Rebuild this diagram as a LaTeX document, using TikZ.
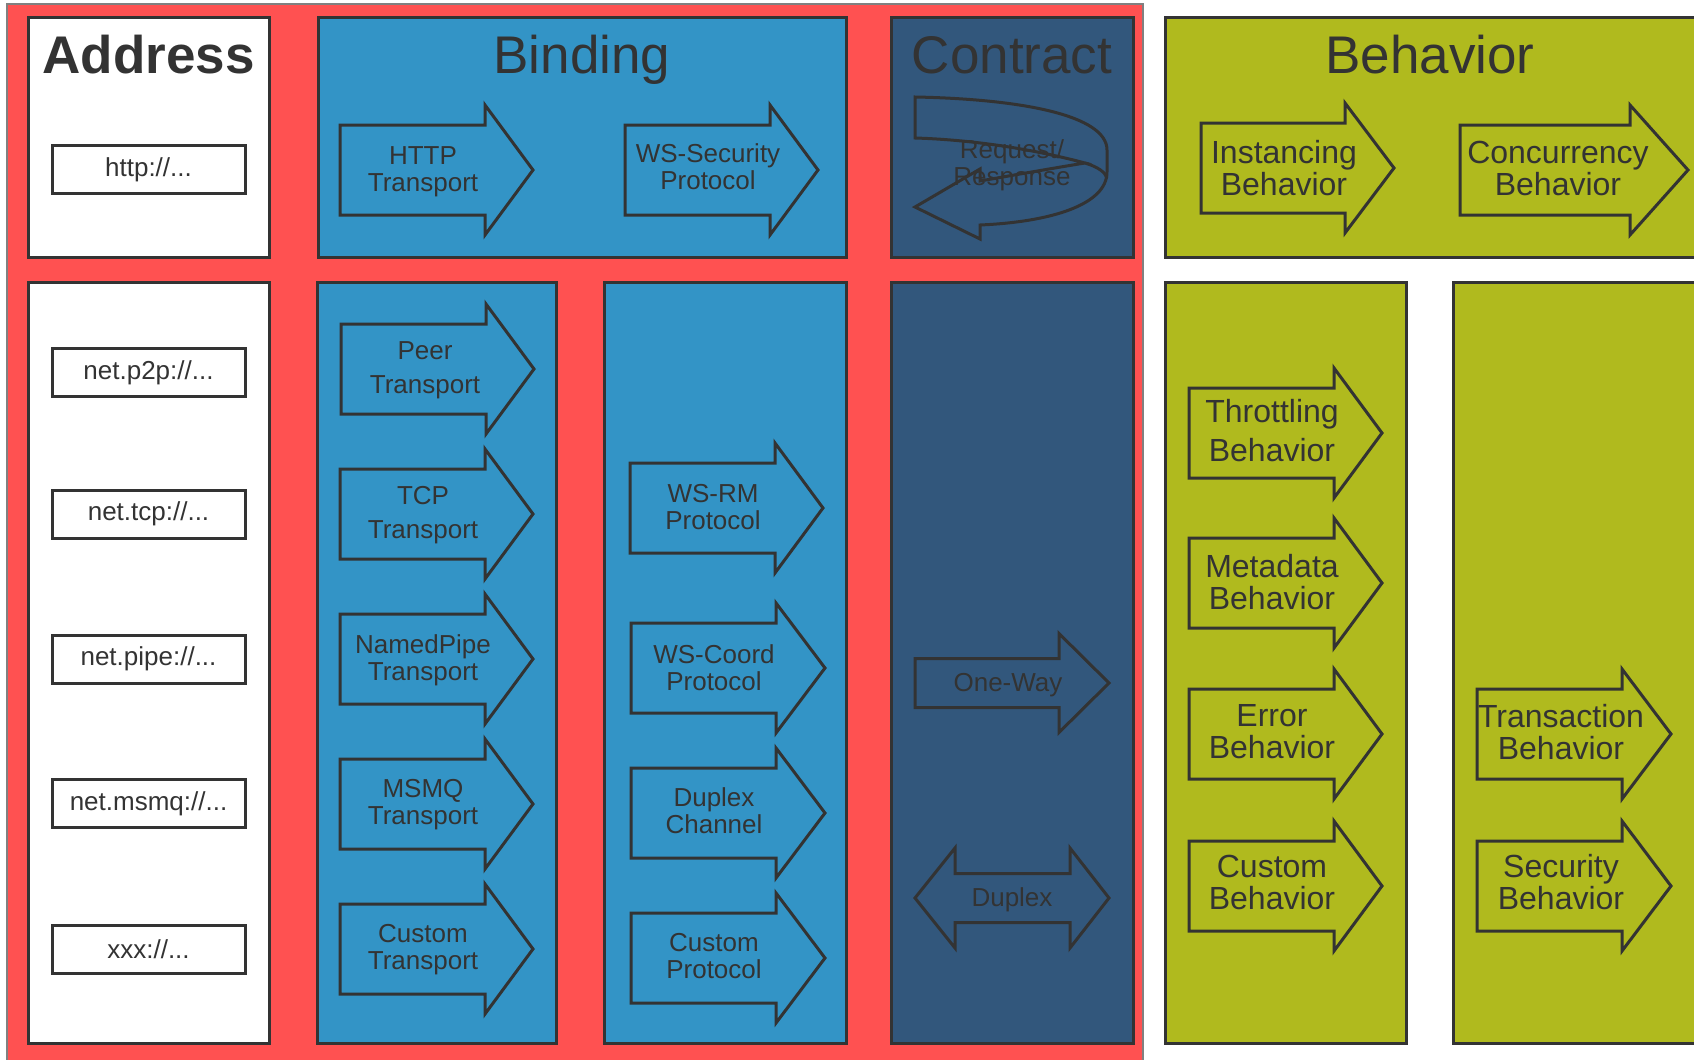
\documentclass[tikz,border=0pt]{standalone}
\usepackage{fontspec}
\setmainfont{Liberation Sans}
\newlength{\du}
\setlength{\du}{0.5pt}
\definecolor{wcfred}{rgb}{1.000000, 0.317647, 0.317647}
\definecolor{wcfblue}{rgb}{0.200000, 0.580392, 0.776471}
\definecolor{wcfnavy}{rgb}{0.196078, 0.341176, 0.486275}
\definecolor{wcfolive}{rgb}{0.690196, 0.729412, 0.117647}
\definecolor{wcfink}{rgb}{0.200000, 0.200000, 0.200000}
\tikzset{
  panel/.style={draw=wcfink, line width=3\du},
  fatarrow/.style={draw=wcfink, line width=3\du, line join=miter},
  addrbox/.style={draw=wcfink, fill=white, line width=3\du, minimum width=193\du, minimum height=48\du, inner sep=0pt, text=wcfink, font=\fontsize{13}{15}\selectfont},
  paneltitle/.style={anchor=base, text=wcfink, inner sep=0pt, font=\fontsize{26.5}{30}\selectfont},
  arrowtext/.style={align=center, text=wcfink, inner sep=0pt, font=\fontsize{13}{13.5}\selectfont},
  behavtext/.style={align=center, text=wcfink, inner sep=0pt, font=\fontsize{16}{16}\selectfont},
}

\begin{document}
\begin{tikzpicture}
\pgftransformxscale{1.000000}
\pgftransformyscale{-1.000000}
\useasboundingbox (0\du,0\du) rectangle (1694\du,1060\du);
% red frame round address, binding and contract
\fill[wcfred] (7\du,4\du) rectangle (1143\du,1060\du);
\draw[gray, line width=1.5\du] (7\du,1060\du) -- (7\du,4\du) -- (1143\du,4\du) -- (1143\du,1060\du);
% panels
\draw[panel, fill=white] (28\du,17\du) rectangle (269\du,257\du);
\draw[panel, fill=white] (28\du,282\du) rectangle (269\du,1043\du);
\draw[panel, fill=wcfblue] (318\du,17\du) rectangle (846\du,257\du);
\draw[panel, fill=wcfblue] (317\du,282\du) rectangle (556\du,1043\du);
\draw[panel, fill=wcfblue] (604\du,282\du) rectangle (846\du,1043\du);
\draw[panel, fill=wcfnavy] (891\du,17\du) rectangle (1133\du,257\du);
\draw[panel, fill=wcfnavy] (891\du,282\du) rectangle (1133\du,1043\du);
\draw[panel, fill=wcfolive] (1165\du,17\du) rectangle (1700\du,257\du);
\draw[panel, fill=wcfolive] (1165\du,282\du) rectangle (1406\du,1043\du);
\draw[panel, fill=wcfolive] (1453\du,282\du) rectangle (1700\du,1043\du);
% titles
\node[paneltitle, font=\bfseries\fontsize{26.5}{30}\selectfont] (taddress) at (148.5\du,73\du){Address};
\node[paneltitle] (tbinding) at (582\du,73\du){Binding};
\node[paneltitle] (tcontract) at (1012\du,73\du){Contract};
\node[paneltitle] (tbehavior) at (1430\du,73\du){Behavior};
% addresses
\node[addrbox] (uhttp) at (148.5\du,169.5\du){http://...};
\node[addrbox] (up2p) at (148.5\du,372.5\du){net.p2p://...};
\node[addrbox] (utcp) at (148.5\du,514\du){net.tcp://...};
\node[addrbox] (upipe) at (148.5\du,659\du){net.pipe://...};
\node[addrbox] (umsmq) at (148.5\du,803.5\du){net.msmq://...};
\node[addrbox] (uxxx) at (148.5\du,949\du){xxx://...};
% binding arrows
\draw[fatarrow] (340\du,125\du) -- (485\du,125\du) -- (485\du,105\du) -- (533\du,170\du) -- (485\du,235\du) -- (485\du,215\du) -- (340\du,215\du) -- cycle;
\node[arrowtext] (bhttp) at (423\du,172\du){HTTP\\Transport};
\draw[fatarrow] (625\du,125\du) -- (770\du,125\du) -- (770\du,105\du) -- (818\du,170\du) -- (770\du,235\du) -- (770\du,215\du) -- (625\du,215\du) -- cycle;
\node[arrowtext] (bwssec) at (708\du,167\du){WS-Security\\Protocol};
\draw[fatarrow] (341\du,324\du) -- (486\du,324\du) -- (486\du,304\du) -- (534\du,369\du) -- (486\du,434\du) -- (486\du,414\du) -- (341\du,414\du) -- cycle;
\node[arrowtext, font=\fontsize{13}{17}\selectfont] (bpeer) at (425\du,370\du){Peer\\Transport};
\draw[fatarrow] (340\du,469\du) -- (485\du,469\du) -- (485\du,449\du) -- (533\du,514\du) -- (485\du,579\du) -- (485\du,559\du) -- (340\du,559\du) -- cycle;
\node[arrowtext, font=\fontsize{13}{17}\selectfont] (btcp) at (423\du,515\du){TCP\\Transport};
\draw[fatarrow] (340\du,614\du) -- (485\du,614\du) -- (485\du,594\du) -- (533\du,659\du) -- (485\du,724\du) -- (485\du,704\du) -- (340\du,704\du) -- cycle;
\node[arrowtext] (bpipe) at (423\du,660\du){NamedPipe\\Transport};
\draw[fatarrow] (340\du,759\du) -- (485\du,759\du) -- (485\du,739\du) -- (533\du,804\du) -- (485\du,869\du) -- (485\du,849\du) -- (340\du,849\du) -- cycle;
\node[arrowtext] (bmsmq) at (423\du,805\du){MSMQ\\Transport};
\draw[fatarrow] (340\du,904\du) -- (485\du,904\du) -- (485\du,884\du) -- (533\du,949\du) -- (485\du,1014\du) -- (485\du,994\du) -- (340\du,994\du) -- cycle;
\node[arrowtext] (bcustt) at (423\du,950\du){Custom\\Transport};
\draw[fatarrow] (630\du,463\du) -- (775\du,463\du) -- (775\du,443\du) -- (823\du,508\du) -- (775\du,573\du) -- (775\du,553\du) -- (630\du,553\du) -- cycle;
\node[arrowtext] (bwsrm) at (713\du,507\du){WS-RM\\Protocol};
\draw[fatarrow] (631\du,623\du) -- (776\du,623\du) -- (776\du,603\du) -- (825\du,668\du) -- (776\du,733\du) -- (776\du,713\du) -- (631\du,713\du) -- cycle;
\node[arrowtext] (bwscoord) at (714\du,668\du){WS-Coord\\Protocol};
\draw[fatarrow] (631\du,768\du) -- (776\du,768\du) -- (776\du,748\du) -- (825\du,813\du) -- (776\du,878\du) -- (776\du,858\du) -- (631\du,858\du) -- cycle;
\node[arrowtext] (bduplex) at (714\du,811\du){Duplex\\Channel};
\draw[fatarrow] (631\du,913\du) -- (776\du,913\du) -- (776\du,893\du) -- (825\du,958\du) -- (776\du,1023\du) -- (776\du,1003\du) -- (631\du,1003\du) -- cycle;
\node[arrowtext] (bcustp) at (714\du,956\du){Custom\\Protocol};
% contract arrows
\draw[fatarrow] (915\du,97\du) .. controls (1020\du,99\du) and (1107\du,115\du) .. (1107\du,150\du) -- (1107\du,172\du) .. controls (1107\du,205\du) and (1050\du,222\du) .. (980\du,225\du) -- (980\du,239\du) -- (915\du,207\du) -- (980\du,169\du) -- (980\du,181\du) .. controls (1020\du,174\du) and (1060\du,167\du) .. (1085\du,163\du) .. controls (1040\du,151\du) and (980\du,140\du) .. (915\du,138\du) -- cycle;
\draw[fatarrow] (1085\du,163\du) .. controls (1098\du,167\du) and (1105\du,172\du) .. (1107\du,178\du);
\node[arrowtext] (creqresp) at (1012\du,165\du){Request/\\Response};
\draw[fatarrow] (915\du,658.5\du) -- (1059\du,658.5\du) -- (1059\du,633.5\du) -- (1109\du,683\du) -- (1059\du,732.5\du) -- (1059\du,707.5\du) -- (915\du,707.5\du) -- cycle;
\node[arrowtext, anchor=base] (coneway) at (1008\du,691\du){One-Way};
\draw[fatarrow] (915\du,898\du) -- (955\du,848\du) -- (955\du,873.5\du) -- (1070\du,873.5\du) -- (1070\du,848\du) -- (1109\du,898\du) -- (1070\du,948\du) -- (1070\du,922.5\du) -- (955\du,922.5\du) -- (955\du,948\du) -- cycle;
\node[arrowtext, anchor=base] (cduplex) at (1012\du,906\du){Duplex};
% behavior arrows
\draw[fatarrow] (1201\du,123\du) -- (1345\du,123\du) -- (1345\du,103\du) -- (1394\du,168\du) -- (1345\du,233\du) -- (1345\du,213\du) -- (1201\du,213\du) -- cycle;
\node[behavtext] (hinst) at (1284\du,168\du){Instancing\\Behavior};
\draw[fatarrow] (1460\du,125\du) -- (1630\du,125\du) -- (1630\du,105\du) -- (1688\du,170\du) -- (1630\du,235\du) -- (1630\du,215\du) -- (1460\du,215\du) -- cycle;
\node[behavtext] (hconc) at (1558\du,168\du){Concurrency\\Behavior};
\draw[fatarrow] (1189\du,388\du) -- (1334\du,388\du) -- (1334\du,368\du) -- (1382\du,433\du) -- (1334\du,498\du) -- (1334\du,478\du) -- (1189\du,478\du) -- cycle;
\node[behavtext, font=\fontsize{16}{19.5}\selectfont] (hthrot) at (1272\du,431\du){Throttling\\Behavior};
\draw[fatarrow] (1189\du,538\du) -- (1334\du,538\du) -- (1334\du,518\du) -- (1382\du,583\du) -- (1334\du,648\du) -- (1334\du,628\du) -- (1189\du,628\du) -- cycle;
\node[behavtext] (hmeta) at (1272\du,582\du){Metadata\\Behavior};
\draw[fatarrow] (1189\du,689\du) -- (1334\du,689\du) -- (1334\du,669\du) -- (1382\du,734\du) -- (1334\du,799\du) -- (1334\du,779\du) -- (1189\du,779\du) -- cycle;
\node[behavtext] (herror) at (1272\du,732\du){Error\\Behavior};
\draw[fatarrow] (1189\du,841\du) -- (1334\du,841\du) -- (1334\du,821\du) -- (1382\du,886\du) -- (1334\du,951\du) -- (1334\du,931\du) -- (1189\du,931\du) -- cycle;
\node[behavtext] (hcustom) at (1272\du,882\du){Custom\\Behavior};
\draw[fatarrow] (1477\du,689\du) -- (1622\du,689\du) -- (1622\du,669\du) -- (1671\du,734\du) -- (1622\du,799\du) -- (1622\du,779\du) -- (1477\du,779\du) -- cycle;
\node[behavtext] (htrans) at (1561\du,732\du){Transaction\\Behavior};
\draw[fatarrow] (1477\du,841\du) -- (1622\du,841\du) -- (1622\du,821\du) -- (1671\du,886\du) -- (1622\du,951\du) -- (1622\du,931\du) -- (1477\du,931\du) -- cycle;
\node[behavtext] (hsecur) at (1561\du,882\du){Security\\Behavior};
\end{tikzpicture}
\end{document}
